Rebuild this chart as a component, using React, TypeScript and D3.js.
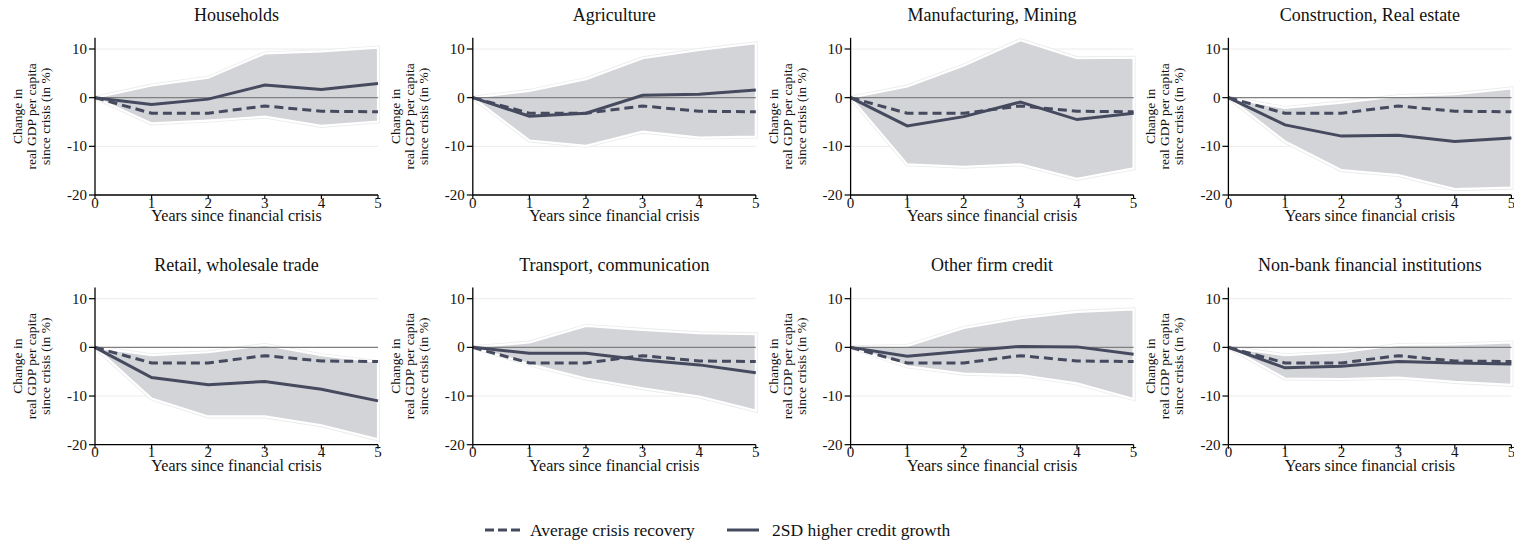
import React from "react";
import * as d3 from "d3";

const years = [0, 1, 2, 3, 4, 5];
const panelTitles = [
  "Households",
  "Agriculture",
  "Manufacturing, Mining",
  "Construction, Real estate",
  "Retail, wholesale trade",
  "Transport, communication",
  "Other firm credit",
  "Non-bank financial institutions",
];
const averageRecovery = [0, -3.2, -3.2, -1.7, -2.8, -2.9];
const creditGrowth = [
  [0, -1.4, -0.3, 2.6, 1.7, 2.9],
  [0, -3.8, -3.2, 0.5, 0.7, 1.6],
  [0, -5.8, -3.9, -0.9, -4.5, -3.2],
  [0, -5.6, -7.9, -7.7, -9.0, -8.3],
  [0, -6.2, -7.7, -7.0, -8.6, -11.0],
  [0, -1.2, -1.2, -2.6, -3.6, -5.2],
  [0, -1.8, -0.8, 0.2, 0.1, -1.4],
  [0, -4.2, -3.9, -2.9, -3.2, -3.4],
];
const bandUpper = [
  [0, 2.5, 4.1, 9.1, 9.5, 10.3],
  [0, 1.4, 3.8, 8.1, 9.8, 11.2],
  [0, 2.3, 6.6, 11.8, 8.1, 8.2],
  [0, -2.1, -1.0, 0.3, 0.7, 1.9],
  [0, -1.6, -1.0, 0.5, -1.6, -3.0],
  [0, 1.0, 4.4, 3.6, 2.9, 2.7],
  [0, 0.3, 4.0, 6.0, 7.3, 7.8],
  [0, -1.6, -1.0, 0.5, 0.6, 1.0],
];
const bandLower = [
  [0, -5.3, -4.7, -3.9, -5.8, -4.9],
  [0, -8.8, -9.9, -7.0, -8.2, -8.0],
  [0, -13.7, -14.2, -13.7, -16.7, -14.5],
  [0, -9.0, -14.9, -15.9, -18.8, -18.5],
  [0, -10.5, -14.2, -14.2, -16.0, -18.9],
  [0, -3.5, -6.4, -8.4, -10.1, -13.0],
  [0, -3.9, -5.4, -5.7, -7.4, -10.6],
  [0, -6.4, -6.5, -6.2, -7.1, -7.7],
];
const yTicks = [-20, -10, 0, 10];
const xTicks = [0, 1, 2, 3, 4, 5];
const yLabelLines = ["Change in", "real GDP per capita", "since crisis (in %)"];
const xLabel = "Years since financial crisis";
const legendLabels = ["Average crisis recovery", "2SD higher credit growth"];

const FONT = "'Liberation Serif', 'Times New Roman', serif";
const LINE = "#464a5e";
const BAND = "#d3d4d8";

const Panel = ({ idx }: { idx: number }) => {
  const col = idx % 4;
  const row = Math.floor(idx / 4);
  const x0 = 95 + col * 377.8;
  const pw = 283;
  const yBottom = 195 + row * 249.7;
  const x = d3.scaleLinear().domain([0, 5]).range([x0, x0 + pw]);
  const y = d3
    .scaleLinear()
    .domain([-20, 10])
    .range([yBottom, yBottom - 146]);
  const yTop = y(12.3);
  const area = d3
    .area<number>()
    .x((_, i) => x(years[i]))
    .y0((_, i) => y(bandLower[idx][i]))
    .y1((d) => y(d));
  const line = d3
    .line<number>()
    .x((_, i) => x(years[i]))
    .y((d) => y(d));
  const cy = (yTop + yBottom) / 2;
  return (
    <g>
      <text
        x={(x0 + x0 + pw) / 2}
        y={yBottom - 174}
        textAnchor="middle"
        fontSize={18}
        fontFamily={FONT}
        fill="#111"
      >
        {panelTitles[idx]}
      </text>
      {yTicks
        .filter((t) => t !== 0 && t !== -20)
        .map((t) => (
          <line
            key={t}
            x1={x0}
            x2={x0 + pw}
            y1={y(t)}
            y2={y(t)}
            stroke="#ececec"
            strokeWidth={1}
          />
        ))}
      <path d={area(bandUpper[idx]) || ""} fill="none" stroke="#ececec" strokeWidth={4} />
      <path d={area(bandUpper[idx]) || ""} fill={BAND} stroke="#ffffff" strokeWidth={2.2} />
      <line x1={x0} x2={x0 + pw} y1={y(0)} y2={y(0)} stroke="#7f7f7f" strokeWidth={1.4} />
      <path
        d={line(averageRecovery) || ""}
        fill="none"
        stroke={LINE}
        strokeWidth={3}
        strokeDasharray="9,5"
      />
      <path d={line(creditGrowth[idx]) || ""} fill="none" stroke={LINE} strokeWidth={3} />
      <line x1={x0} x2={x0} y1={yTop} y2={yBottom} stroke="#000" strokeWidth={1.3} />
      <line x1={x0} x2={x0 + pw} y1={yBottom} y2={yBottom} stroke="#000" strokeWidth={1.3} />
      {yTicks.map((t) => (
        <g key={t}>
          <line x1={x0 - 6} x2={x0} y1={y(t)} y2={y(t)} stroke="#000" strokeWidth={1.2} />
          <text
            x={x0 - 8}
            y={y(t)}
            dy="0.34em"
            textAnchor="end"
            fontSize={15}
            fontFamily={FONT}
            fill="#111"
          >
            {t}
          </text>
        </g>
      ))}
      {xTicks.map((t) => (
        <g key={t}>
          <line x1={x(t)} x2={x(t)} y1={yBottom} y2={yBottom + 4} stroke="#000" strokeWidth={1.2} />
          <text
            x={x(t)}
            y={yBottom + 12.5}
            textAnchor="middle"
            fontSize={15}
            fontFamily={FONT}
            fill="#111"
          >
            {t}
          </text>
        </g>
      ))}
      <text
        x={(x0 + x0 + pw) / 2}
        y={yBottom + 26}
        textAnchor="middle"
        fontSize={16}
        fontFamily={FONT}
        fill="#111"
      >
        {xLabel}
      </text>
      {yLabelLines.map((s, i) => (
        <text
          key={i}
          transform={`translate(${x0 - 73 + i * 14},${cy}) rotate(-90)`}
          textAnchor="middle"
          fontSize={13.5}
          fontFamily={FONT}
          fill="#111"
        >
          {s}
        </text>
      ))}
    </g>
  );
};

export default function App() {
  return (
    <svg
      width={1514}
      height={543}
      style={{ position: "absolute", left: 0, top: 0, background: "#fff" }}
    >
      <rect width={1514} height={543} fill="#fff" />
      {panelTitles.map((_, i) => (
        <Panel key={i} idx={i} />
      ))}
      <g>
        <line x1={485} x2={520} y1={530} y2={530} stroke={LINE} strokeWidth={3} strokeDasharray="9,4" />
        <text x={530} y={530} dy="0.33em" fontSize={17.5} fontFamily={FONT} fill="#111">
          {legendLabels[0]}
        </text>
        <line x1={727} x2={759} y1={530} y2={530} stroke={LINE} strokeWidth={3} />
        <text x={772} y={530} dy="0.33em" fontSize={17.5} fontFamily={FONT} fill="#111">
          {legendLabels[1]}
        </text>
      </g>
    </svg>
  );
}
